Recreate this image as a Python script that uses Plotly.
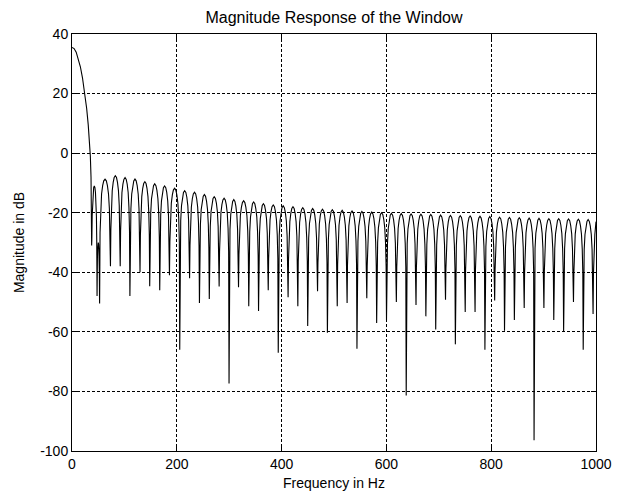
import plotly.graph_objects as go

# ---- data ----
X_TICKS = [0, 200, 400, 600, 800, 1000]
Y_TICKS = [-100, -80, -60, -40, -20, 0, 20, 40]

# main lobe (Hz, dB)
MAIN_F = [0, 4, 8, 12, 16, 20, 24, 28, 31, 33, 35, 36.3, 37]
MAIN_DB = [35.5, 35.1, 33.9, 31.8, 29.0, 25.3, 20.8, 15.0, 9.5, 5.0, -1.0, -8.0, -15.0]

# nulls (Hz, dB)
NULL_F = [37.5, 47.6, 52.7, 73.4, 92.0, 110.5, 129.8, 148.3, 167.4, 186.0,
          205.6, 224.4, 243.2, 262.0, 280.8, 299.7, 317.8, 337.3, 356.0, 374.5,
          393.6, 412.4, 431.0, 449.8, 468.6, 487.4, 506.2, 525.0, 543.8, 562.6,
          581.4, 600.2, 619.0, 637.8, 656.5, 675.3, 694.1, 712.8, 731.6, 750.4,
          769.2, 788.0, 806.6, 825.4, 844.2, 863.0, 881.8, 900.6, 919.4, 938.2,
          957.0, 975.6, 994.4]
NULL_DB = [-31, -45, -50.5, -38, -38, -48, -40, -44.7, -46, -41,
           -66, -42, -50.3, -49, -44.8, -77.3, -45, -51.4, -53, -46,
           -67, -48.4, -51.4, -58, -46.4, -60.3, -51.4, -50.3, -65.7, -48.7,
           -57, -56, -50, -81.4, -51, -54.8, -59.2, -49.2, -64.2, -53.3,
           -53.3, -66, -49.5, -59.6, -56, -52, -96.4, -52, -56, -60,
           -50, -66, -54]
# sidelobe peak levels (one per gap between consecutive nulls)
PEAK_DB = [-11, -30, -8.7, -7.6, -8.2, -8.7, -9.6, -10.3, -11, -11.8,
           -12.6, -13.1, -13.9, -14.6, -15.1, -15.6, -16, -16.4, -17, -17.4,
           -17.7, -18, -18.3, -18.6, -18.8, -19, -19.2, -19.4, -19.6, -19.8,
           -20, -20.2, -20.3, -20.4, -20.5, -20.6, -20.8, -20.9, -21, -21.1,
           -21.2, -21.3, -21.5, -21.6, -21.7, -21.8, -21.9, -22, -22, -22.1,
           -22.2, -22.3]
END_F, END_DB = 1000, -23.0

# ---- drawing style: shape of one lobe (fraction of lobe width, dB below peak)
LOBE_PROFILE = [(0.04, -18), (0.10, -10), (0.18, -5), (0.28, -2.2), (0.38, -0.6),
                (0.50, 0), (0.62, -0.6), (0.72, -2.2), (0.82, -5), (0.90, -10),
                (0.96, -18)]

xs = list(MAIN_F)
ys = list(MAIN_DB)
for i in range(len(NULL_F) - 1):
    f0, f1 = NULL_F[i], NULL_F[i + 1]
    xs.append(f0)
    ys.append(NULL_DB[i])
    for frac, off in LOBE_PROFILE:
        xs.append(f0 + frac * (f1 - f0))
        ys.append(PEAK_DB[i] + off)
xs.append(NULL_F[-1])
ys.append(NULL_DB[-1])
for frac, off in LOBE_PROFILE[:3]:
    fx = NULL_F[-1] + frac * 18.8
    if fx < END_F:
        xs.append(fx)
        ys.append(PEAK_DB[-1] + off)
xs.append(END_F)
ys.append(END_DB)

FONT = "Liberation Sans, Arial, Helvetica, sans-serif"

fig = go.Figure()
fig.add_trace(go.Scatter(x=xs, y=ys, mode="lines",
                         line=dict(color="black", width=1.1),
                         hoverinfo="skip", showlegend=False))

axis_common = dict(showline=True, linecolor="black", linewidth=1, mirror="ticks",
                   ticks="inside", ticklen=5, tickcolor="black",
                   showgrid=True, gridcolor="black", gridwidth=1, griddash="3px,2px",
                   zeroline=False, tickfont=dict(family=FONT, size=14, color="black"))

fig.update_layout(
    width=624, height=501,
    margin=dict(l=72, r=19, t=34, b=47),
    paper_bgcolor="white", plot_bgcolor="white",
    font=dict(family=FONT, size=14, color="black"),
    title=dict(text="Magnitude Response of the Window", x=0.5, xanchor="center",
               xref="paper", y=1 - 17 / 501, yref="container", yanchor="middle",
               font=dict(family=FONT, size=16, color="black")),
    xaxis=dict(range=[0, 1000], tickvals=X_TICKS, ticktext=[str(v) for v in X_TICKS],
               title=dict(text="Frequency in Hz", standoff=7,
                          font=dict(family=FONT, size=14, color="black")),
               **axis_common),
    yaxis=dict(range=[-100, 40], tickvals=Y_TICKS, ticktext=[str(v) for v in Y_TICKS],
               title=dict(text="Magnitude in dB", standoff=12,
                          font=dict(family=FONT, size=14, color="black")),
               **axis_common),
)

fig.write_html("out.html")
